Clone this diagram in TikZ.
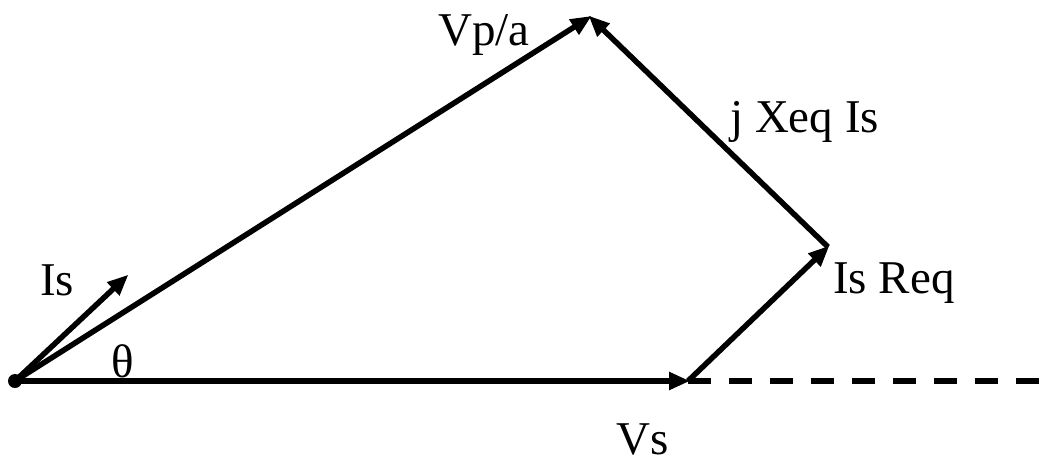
\documentclass[tikz,border=0pt]{standalone}
\usepackage{fontspec}
\setmainfont{Liberation Serif}
\usetikzlibrary{arrows.meta}
\begin{document}
\begin{tikzpicture}[x=1pt,y=-1pt,
  vec/.style={line width=5.5pt,-{Triangle[length=21pt,width=17pt]}, shorten >=-2pt},
  lbl/.style={font=\fontsize{47}{52}\selectfont, inner sep=0pt, anchor=base west}]
\useasboundingbox (0,0) rectangle (1044,463);
\coordinate (O) at (15,381);
\coordinate (S) at (688,381);
\coordinate (R) at (828,247);
\coordinate (P) at (590,17);
\coordinate (I) at (127,276);
\coordinate (E) at (1044,381);
\draw[line width=5.5pt, dash pattern=on 23pt off 18pt] (S) -- (E);
\draw[vec] (O) -- (S);
\draw[vec] (S) -- (R);
\draw[vec] (R) -- (P);
\draw[vec] (O) -- (P);
\draw[vec] (O) -- (I);
\fill (O) circle (7pt);
\node[lbl] (lvp) at (438,45) {Vp/a};
\node[lbl] (ljx) at (730,132) {j Xeq Is};
\node[lbl] (lir) at (833,293) {Is Req};
\node[lbl] (lis) at (40,295) {Is};
\node[lbl] (lth) at (111,377) {θ};
\node[lbl] (lvs) at (616,454) {Vs};
\end{tikzpicture}
\end{document}
